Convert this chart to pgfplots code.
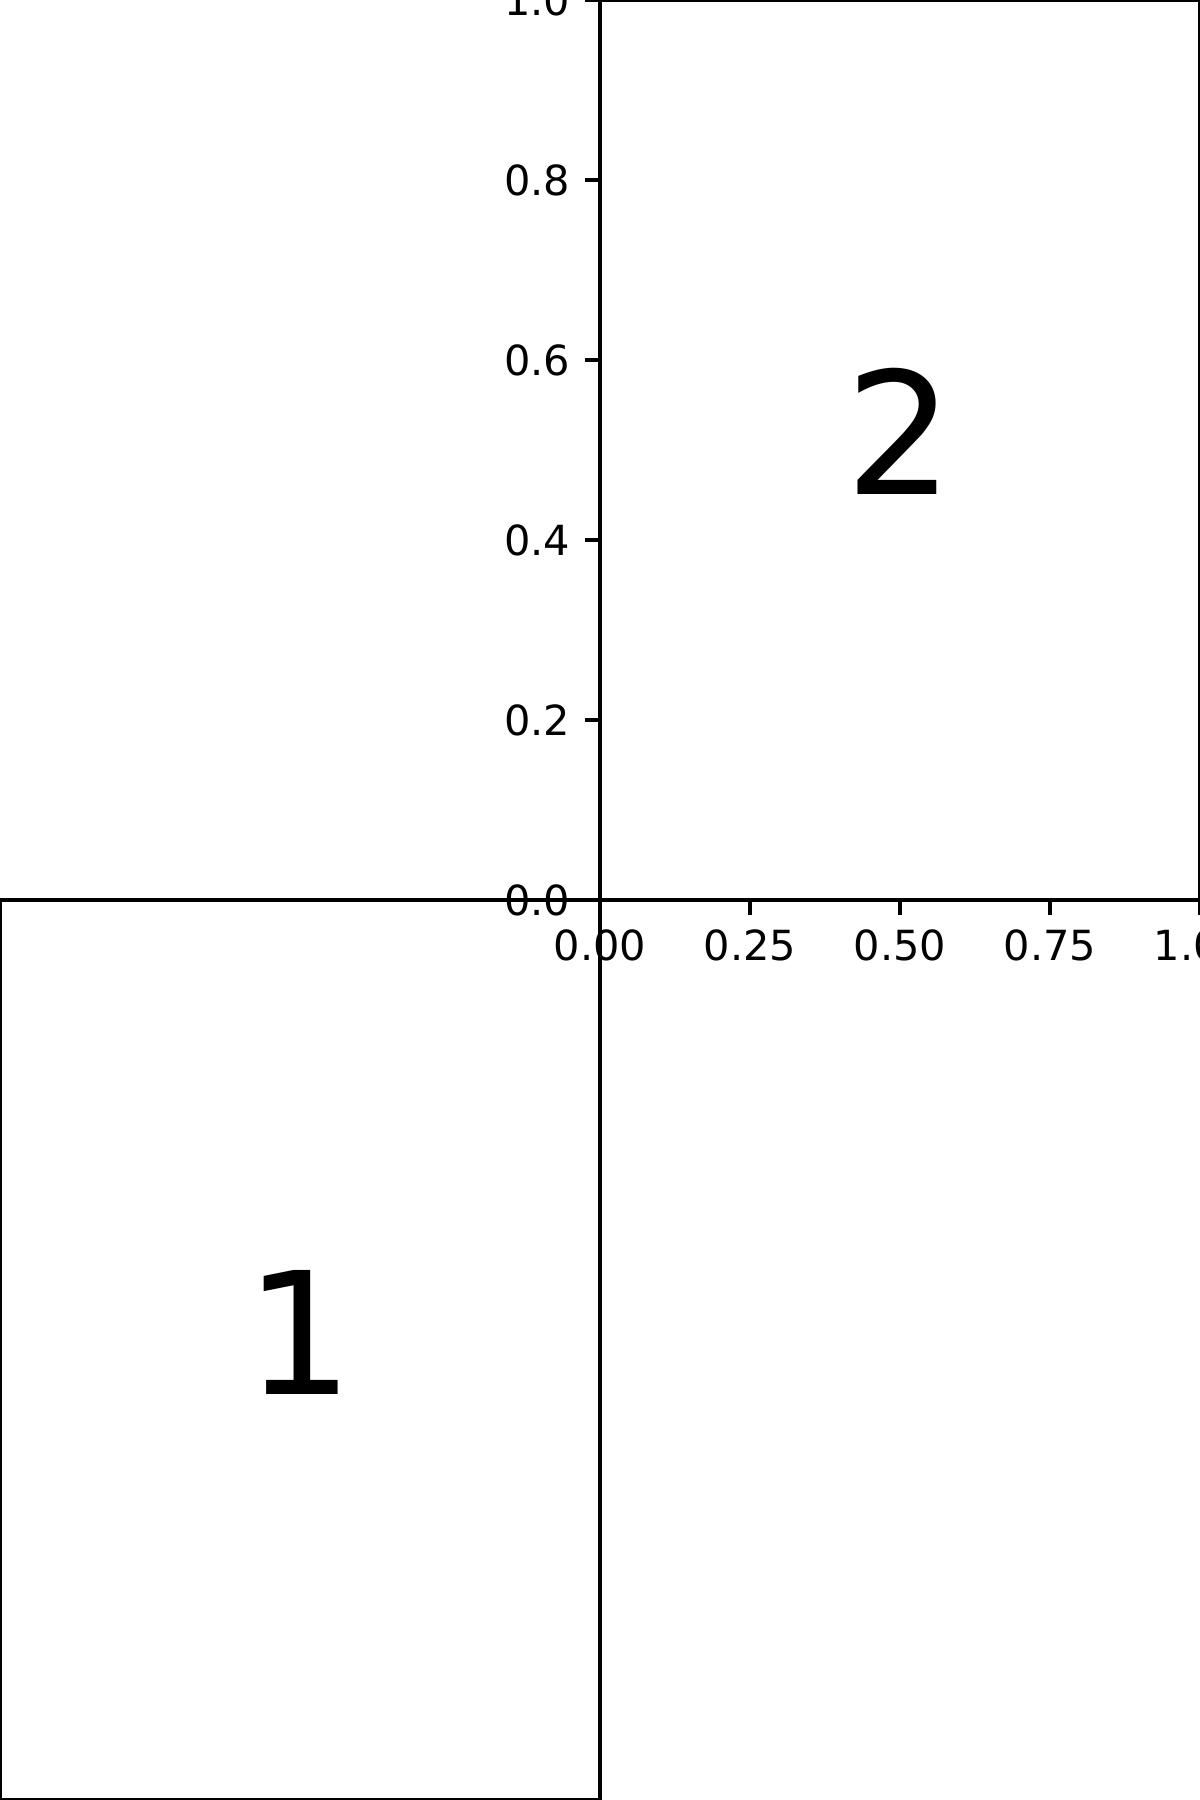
\documentclass[border=0pt]{standalone}
\usepackage{pgfplots}
\pgfplotsset{compat=1.18}
\usepackage{fontspec}
\setmainfont{DejaVu Sans}

\tikzset{bignum/.style={anchor=base, font=\fontsize{41}{41}\selectfont, yshift=-10.7pt}}

\begin{document}
\begin{tikzpicture}
\path[use as bounding box] (0,0) rectangle (4in,6in);
\clip (0,0) rectangle (4in,6in);
\pgfplotsset{
  panel/.style={
    width=2in, height=3in, scale only axis,
    xmin=0, xmax=1, ymin=0, ymax=1,
    axis line style={black, line width=0.8pt},
    tick align=outside,
    major tick length=3.5pt,
    tick style={black, line width=0.8pt},
    xtick pos=bottom, ytick pos=left,
    /pgf/number format/assume math mode=true,
    tick label style={font=\fontsize{10}{12}\selectfont, inner sep=0pt},
  },
}
% panel 1, lower left, no ticks
\begin{axis}[panel, at={(0,0)}, anchor=south west, xtick=\empty, ytick=\empty]
  \node[bignum] at (axis cs:0.5,0.5) {1};
\end{axis}
% panel 2, upper right
\begin{axis}[panel, at={(2in,3in)}, anchor=south west,
    xtick={0,0.25,0.5,0.75,1},
    ytick={0,0.2,0.4,0.6,0.8,1},
    xticklabel style={yshift=-3.5pt, /pgf/number format/.cd, fixed, fixed zerofill, precision=2},
    yticklabel style={xshift=-3.5pt, /pgf/number format/.cd, fixed, fixed zerofill, precision=1},
  ]
  \node[bignum] at (axis cs:0.5,0.5) {2};
\end{axis}
\end{tikzpicture}
\end{document}
